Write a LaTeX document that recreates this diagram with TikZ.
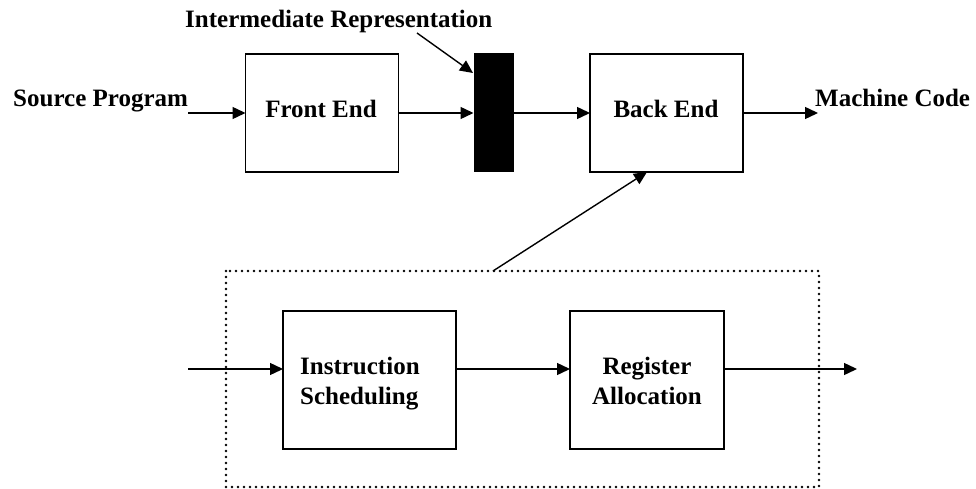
\documentclass[tikz,border=0pt]{standalone}
\usepackage{fontspec}
\setmainfont{Liberation Serif}
\usetikzlibrary{arrows.meta}
\begin{document}
\begin{tikzpicture}[x=1pt,y=-1pt,
  box/.style={draw,line width=1.5pt,inner sep=0pt,outer sep=0pt},
  lbl/.style={font=\fontsize{25}{30}\selectfont\bfseries,inner sep=0pt},
  flow/.style={line width=1.4pt,-{Triangle[length=13pt,width=12pt]}},
  dotbox/.style={line width=2.6pt,line cap=round,dash pattern=on 0pt off 6pt}]
\useasboundingbox (0,0) rectangle (976,489);

% top pipeline
\node[box,minimum width=153pt,minimum height=118pt] (fe) at (322,113) {};
\node[draw,fill=black,line width=1pt,inner sep=0pt,minimum width=39pt,minimum height=118pt] (ir) at (493.5,113) {};
\node[box,minimum width=153pt,minimum height=118pt] (be) at (666.5,113) {};

\node[lbl,anchor=base] (feT) at (321,118) {Front End};
\node[lbl,anchor=base] (beT) at (666,118) {Back End};
\node[lbl,anchor=base west] (src) at (13,107) {Source Program};
\node[lbl,anchor=base west] (mc) at (815,107) {Machine Code};
\node[lbl,anchor=base west] (irT) at (185,28) {Intermediate Representation};

\coordinate (srcEnd) at (188,113);
\coordinate (mcEnd) at (818,113);
\coordinate (irFrom) at (417,33);
\coordinate (irTip) at (473,73);

\draw[flow] (srcEnd) -- (fe.west);
\draw[flow] (fe.east) -- (ir.west);
\draw[flow] (ir.east) -- (be.west);
\draw[flow] (be.east) -- (mcEnd);
\draw[flow] (irFrom) -- (irTip);

% back-end detail
\draw[dotbox] (226,271) rectangle (819,487);
\coordinate (detTop) at (493,271);
\coordinate (beBot) at (647,172);
\draw[flow] (detTop) -- (beBot);

\node[box,minimum width=173pt,minimum height=138pt] (is) at (369.5,380) {};
\node[box,minimum width=154pt,minimum height=138pt] (ra) at (647,380) {};

\node[lbl,anchor=base west] (isA) at (300,374) {Instruction};
\node[lbl,anchor=base west] (isB) at (300,404) {Scheduling};
\node[lbl,anchor=base] (raA) at (647,374) {Register};
\node[lbl,anchor=base] (raB) at (647,404) {Allocation};

\coordinate (inEnd) at (188,369);
\coordinate (outEnd) at (857,369);

\draw[flow] (inEnd) -- (is.west |- inEnd);
\draw[flow] (is.east |- inEnd) -- (ra.west |- inEnd);
\draw[flow] (ra.east |- inEnd) -- (outEnd);
\end{tikzpicture}
\end{document}
